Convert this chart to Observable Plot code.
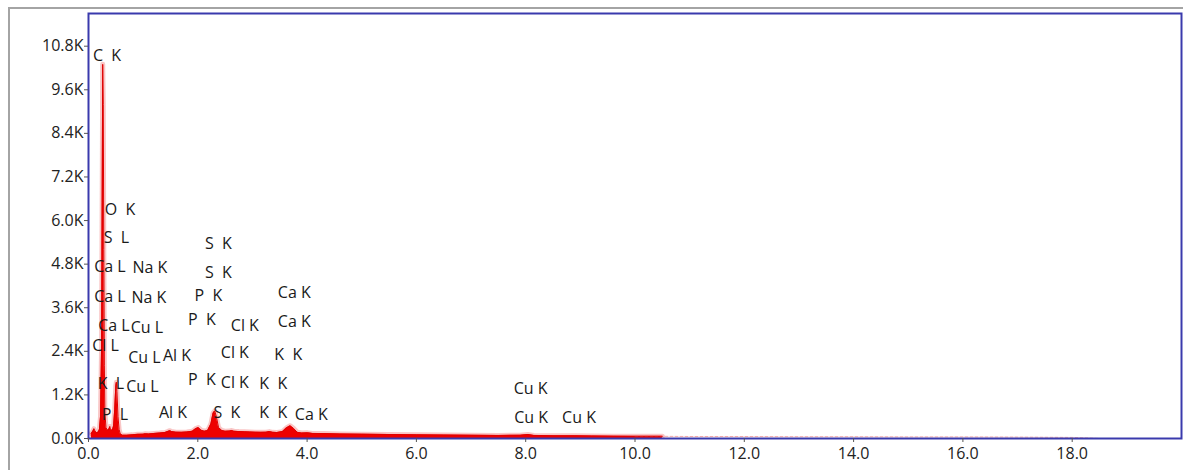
<!DOCTYPE html>
<html>
<head>
<meta charset="utf-8">
<script src="https://cdn.jsdelivr.net/npm/d3@7"></script>
<script src="https://cdn.jsdelivr.net/npm/@observablehq/plot@0.6"></script>
<style>
  html, body { margin: 0; padding: 0; background: #fff; overflow: hidden; width: 1183px; height: 470px; }
  #outer { position: absolute; left: 8px; top: 7px; width: 1300px; height: 600px;
           border-top: 2px solid #a4a4a4; border-left: 2px solid #a4a4a4; }
  #chart { position: absolute; left: 0; top: 0; }
  #chart svg text { white-space: pre; }
</style>
</head>
<body>
<div id="outer"></div>
<div id="chart"></div>
<script>
// Spectrum (energy in keV, counts)
const energy = [0.05,0.08,0.10,0.12,0.15,0.18,0.20,0.22,0.24,0.25,0.26,0.27,0.28,0.29,0.30,0.32,0.34,0.36,0.38,0.39,0.40,0.42,0.44,0.46,0.48,0.50,0.51,0.52,0.54,0.56,0.58,0.62,0.70,0.80,0.90,1.00,1.04,1.10,1.20,1.30,1.40,1.46,1.49,1.52,1.60,1.70,1.80,1.90,1.96,2.01,2.06,2.12,2.18,2.24,2.28,2.31,2.34,2.38,2.44,2.50,2.58,2.62,2.66,2.75,2.85,2.95,3.05,3.15,3.25,3.31,3.37,3.45,3.55,3.62,3.69,3.75,3.82,3.90,4.01,4.10,4.30,4.60,5.00,5.50,6.00,6.50,7.00,7.50,7.90,8.04,8.15,8.50,8.90,9.20,9.60,10.0,10.5,11.0,12.0,13.0,14.0,15.0,16.0,17.0,17.5,18.0,18.3,18.5,19.0,20.0];
const counts = [140,200,270,200,160,180,250,600,2600,6500,10300,9200,5200,2000,700,300,240,230,280,330,260,230,240,350,800,1450,1550,1300,600,250,130,90,90,100,115,120,130,125,140,150,165,200,215,190,175,170,180,200,270,300,230,200,220,400,700,760,600,300,220,200,205,220,200,190,185,180,175,170,175,190,170,165,190,290,350,280,170,150,155,140,135,125,120,110,100,95,90,85,90,110,85,75,75,70,65,60,60,55,55,50,50,45,45,40,35,30,15,0,0,0];

// Peak identification labels (text, energy keV, label height in counts)
const labelText = ["C  K","O  K","S  L","S  K","Ca L","Na K","S  K","Ca L","Na K","P  K","Ca K","Ca L","Cu L","P  K","Cl K","Ca K","Cl L","Cu L","Al K","Cl K","K  K","K  L","Cu L","P  K","Cl K","K  K","Cu K","P  L","Al K","S  K","K  K","Ca K","Cu K","Cu K"];
const labelKeV = [0.338,0.576,0.512,2.377,0.393,1.124,2.377,0.393,1.106,2.194,3.766,0.466,1.069,2.075,2.861,3.766,0.311,1.024,1.618,2.678,3.656,0.411,0.987,2.075,2.678,3.382,8.090,0.484,1.545,2.532,3.382,4.077,8.099,8.976];
const labelCounts = [10520,6295,5527,5363,4732,4704,4567,3909,3882,3936,4018,3113,3058,3278,3113,3223,2537,2208,2263,2345,2290,1495,1413,1605,1522,1495,1358,645,700,700,700,645,562,562];

// Axis ticks
const xTicks = [0,2,4,6,8,10,12,14,16,18];
const yTicks = [0,1200,2400,3600,4800,6000,7200,8400,9600,10800];

const spectrum = energy.map((e, i) => ({e, c: counts[i]}));
const labels = labelText.map((t, i) => ({t, e: labelKeV[i], c: labelCounts[i]}));

const font = "'Open Sans', 'DejaVu Sans', sans-serif";

const chart = Plot.plot({
  width: 1183,
  height: 470,
  marginLeft: 88,
  marginRight: 2,
  marginTop: 13,
  marginBottom: 32,
  style: {fontFamily: font, background: "transparent", color: "#222"},
  x: {domain: [0, 20]},
  y: {domain: [0, 11700]},
  marks: [
    Plot.line(spectrum, {x: "e", y: "c", filter: d => d.e <= 10.5, stroke: "#f07070", strokeWidth: 5, strokeOpacity: 0.4, clip: true}),
    Plot.areaY(spectrum, {x: "e", y: "c", filter: d => d.e <= 10.5, fill: "#ee0000", clip: true}),
    Plot.line(spectrum, {x: "e", y: "c", filter: d => d.e <= 10.5, stroke: "#e00000", strokeWidth: 1, clip: true}),
    Plot.line(spectrum, {x: "e", y: "c", filter: d => d.e >= 10, stroke: "#e04040", strokeWidth: 1, strokeOpacity: 0.45, strokeDasharray: "3,2", clip: true}),
    Plot.frame({stroke: "#3a3aad", strokeWidth: 2}),
    Plot.axisY({ticks: yTicks, tickFormat: d => (d / 1000).toFixed(1) + "K", tickSize: 4, tickPadding: 1, fontSize: 16, label: null, stroke: "#555"}),
    Plot.axisX({ticks: xTicks, tickFormat: d => d.toFixed(1), tickSize: 4, tickPadding: 5, fontSize: 16, label: null, stroke: "#555"}),
    Plot.text(labels, {x: "e", y: "c", text: "t", fontSize: 16, fill: "#1a1a1a"})
  ]
});
chart.setAttributeNS("http://www.w3.org/XML/1998/namespace", "xml:space", "preserve");
document.getElementById("chart").appendChild(chart);
</script>
</body>
</html>
